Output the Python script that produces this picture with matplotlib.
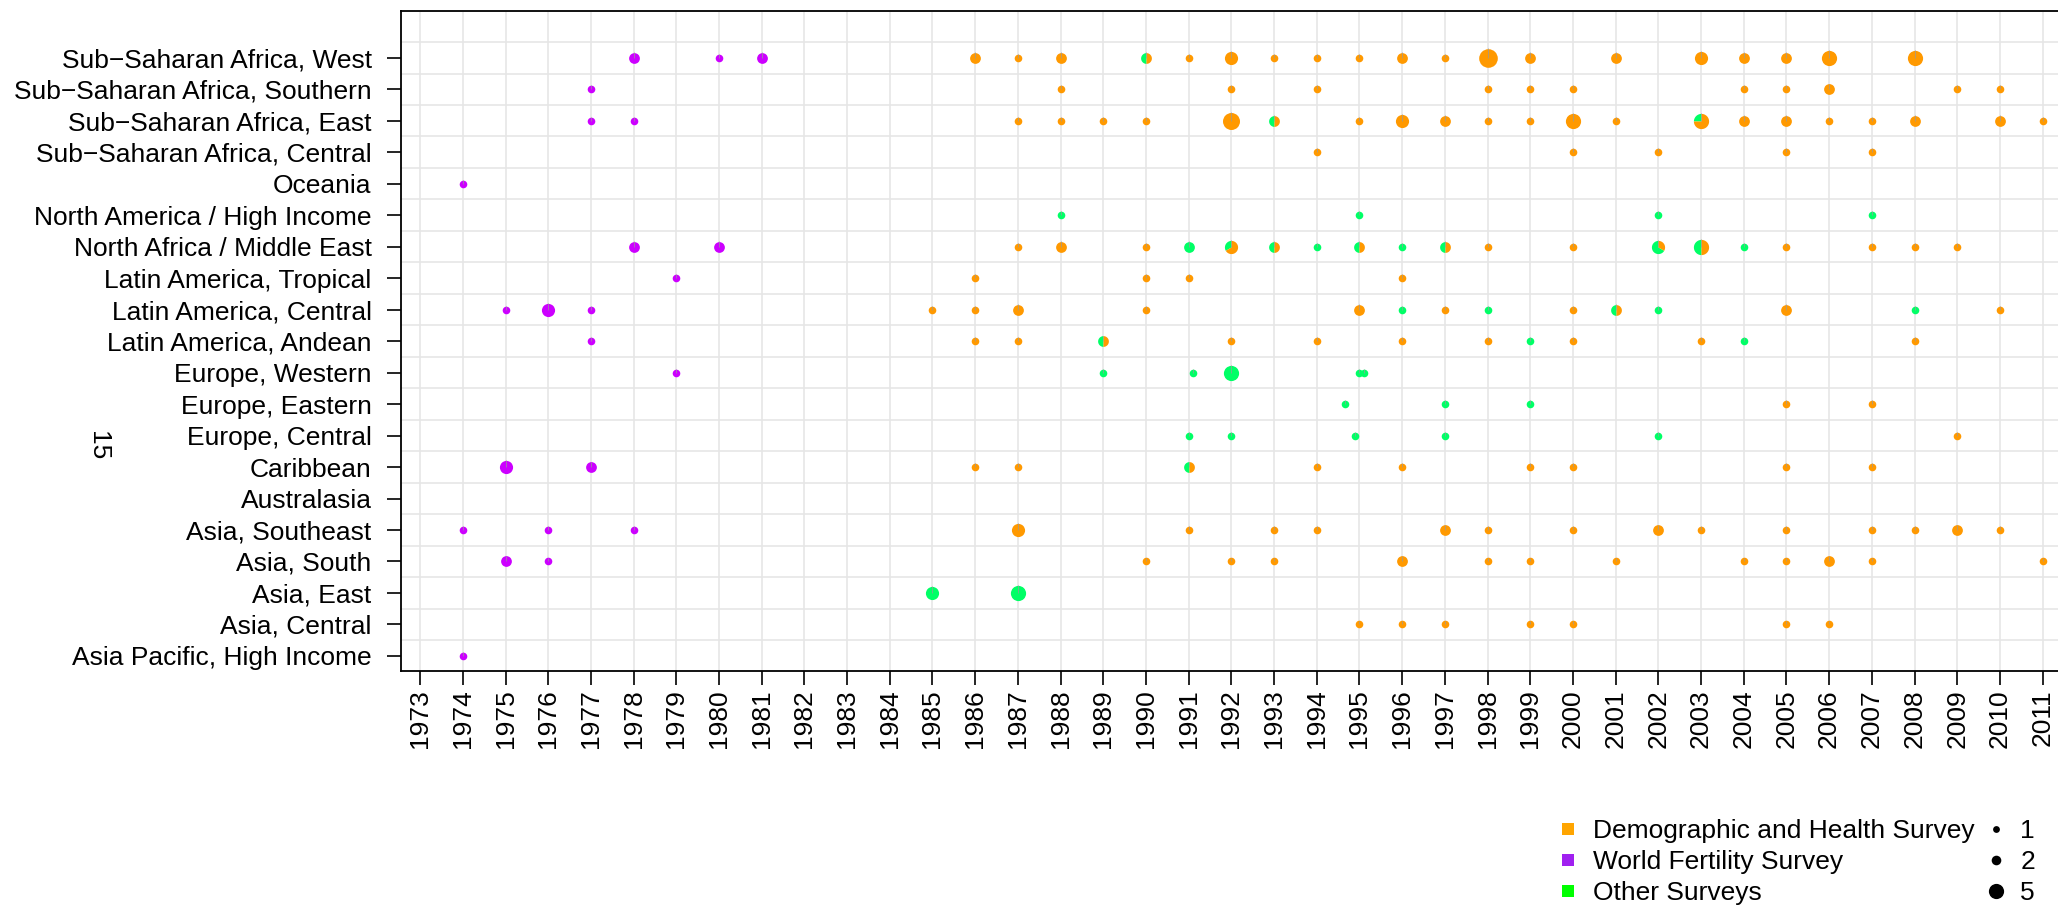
import numpy as np
import matplotlib
matplotlib.use('Agg')
import matplotlib.pyplot as plt
from matplotlib.path import Path
from matplotlib.lines import Line2D

# regions, bottom row first
regions = [
    "Asia Pacific, High Income", "Asia, Central", "Asia, East", "Asia, South",
    "Asia, Southeast", "Australasia", "Caribbean", "Europe, Central",
    "Europe, Eastern", "Europe, Western", "Latin America, Andean",
    "Latin America, Central", "Latin America, Tropical",
    "North Africa / Middle East", "North America / High Income", "Oceania",
    "Sub\u2212Saharan Africa, Central", "Sub\u2212Saharan Africa, East",
    "Sub\u2212Saharan Africa, Southern", "Sub\u2212Saharan Africa, West",
]
years = list(range(1973, 2013))

# (year, number of surveys) per region
dhs_surveys = {
    "Sub\u2212Saharan Africa, West": [(1986, 2), (1987, 1), (1988, 2), (1990, 1), (1991, 1), (1992, 3),
                                     (1993, 1), (1994, 1), (1995, 1), (1996, 2), (1997, 1), (1998, 6),
                                     (1999, 2), (2001, 2), (2003, 3), (2004, 2), (2005, 2), (2006, 4),
                                     (2008, 4)],
    "Sub\u2212Saharan Africa, Southern": [(1988, 1), (1992, 1), (1994, 1), (1998, 1), (1999, 1), (2000, 1),
                                         (2004, 1), (2005, 1), (2006, 2), (2009, 1), (2010, 1)],
    "Sub\u2212Saharan Africa, East": [(1987, 1), (1988, 1), (1989, 1), (1990, 1), (1992, 5), (1993, 1),
                                     (1995, 1), (1996, 3), (1997, 2), (1998, 1), (1999, 1), (2000, 4),
                                     (2001, 1), (2003, 3), (2004, 2), (2005, 2), (2006, 1), (2007, 1),
                                     (2008, 2), (2010, 2), (2011, 1)],
    "Sub\u2212Saharan Africa, Central": [(1994, 1), (2000, 1), (2002, 1), (2005, 1), (2007, 1)],
    "North Africa / Middle East": [(1987, 1), (1988, 2), (1990, 1), (1992, 2), (1993, 1), (1995, 1),
                                   (1997, 1), (1998, 1), (2000, 1), (2002, 1), (2003, 2), (2005, 1),
                                   (2007, 1), (2008, 1), (2009, 1)],
    "Latin America, Tropical": [(1986, 1), (1990, 1), (1991, 1), (1996, 1)],
    "Latin America, Central": [(1985, 1), (1986, 1), (1987, 2), (1990, 1), (1995, 2), (1997, 1),
                               (2000, 1), (2001, 1), (2005, 2), (2010, 1)],
    "Latin America, Andean": [(1986, 1), (1987, 1), (1989, 1), (1992, 1), (1994, 1), (1996, 1),
                              (1998, 1), (2000, 1), (2003, 1), (2008, 1)],
    "Europe, Eastern": [(2005, 1), (2007, 1)],
    "Europe, Central": [(2009, 1)],
    "Caribbean": [(1986, 1), (1987, 1), (1991, 1), (1994, 1), (1996, 1), (1999, 1), (2000, 1),
                  (2005, 1), (2007, 1)],
    "Asia, Southeast": [(1987, 3), (1991, 1), (1993, 1), (1994, 1), (1997, 2), (1998, 1), (2000, 1),
                        (2002, 2), (2003, 1), (2005, 1), (2007, 1), (2008, 1), (2009, 2), (2010, 1)],
    "Asia, South": [(1990, 1), (1992, 1), (1993, 1), (1996, 2), (1998, 1), (1999, 1), (2001, 1),
                    (2004, 1), (2005, 1), (2006, 2), (2007, 1), (2011, 1)],
    "Asia, Central": [(1995, 1), (1996, 1), (1997, 1), (1999, 1), (2000, 1), (2005, 1), (2006, 1)],
}

wfs_surveys = {
    "Sub\u2212Saharan Africa, West": [(1978, 2), (1980, 1), (1981, 2)],
    "Sub\u2212Saharan Africa, Southern": [(1977, 1)],
    "Sub\u2212Saharan Africa, East": [(1977, 1), (1978, 1)],
    "Oceania": [(1974, 1)],
    "North Africa / Middle East": [(1978, 2), (1980, 2)],
    "Latin America, Tropical": [(1979, 1)],
    "Latin America, Central": [(1975, 1), (1976, 3), (1977, 1)],
    "Latin America, Andean": [(1977, 1)],
    "Europe, Western": [(1979, 1)],
    "Caribbean": [(1975, 3), (1977, 2)],
    "Asia, Southeast": [(1974, 1), (1976, 1), (1978, 1)],
    "Asia, South": [(1975, 2), (1976, 1)],
    "Asia Pacific, High Income": [(1974, 1)],
}

other_surveys = {
    "Sub\u2212Saharan Africa, West": [(1990, 1)],
    "Sub\u2212Saharan Africa, East": [(1993, 1), (2003, 1)],
    "North America / High Income": [(1988, 1), (1995, 1), (2002, 1), (2007, 1)],
    "North Africa / Middle East": [(1991, 2), (1992, 1), (1993, 1), (1994, 1), (1995, 1), (1996, 1),
                                   (1997, 1), (2002, 2), (2003, 2), (2004, 1)],
    "Latin America, Central": [(1996, 1), (1998, 1), (2001, 1), (2002, 1), (2008, 1)],
    "Latin America, Andean": [(1989, 1), (1999, 1), (2004, 1)],
    "Europe, Western": [(1989, 1), (1991.1, 1), (1992, 4), (1995, 1), (1995.1, 1)],
    "Europe, Eastern": [(1994.66, 1), (1997, 1), (1999, 1)],
    "Europe, Central": [(1991, 1), (1992, 1), (1994.9, 1), (1997, 1), (2002, 1)],
    "Caribbean": [(1991, 1)],
    "Asia, East": [(1985, 3), (1987, 4)],
}

survey_labels = ["Demographic and Health Survey", "World Fertility Survey", "Other Surveys"]
legend_colors = ["#FFA500", "#A020F0", "#00FF00"]
size_labels = [1, 2, 5]

# slice order inside a pie: other, dhs, wfs
point_colors = ["#00FF66", "#FF9900", "#CC00FF"]
sources = [other_surveys, dhs_surveys, wfs_surveys]
SIZE = 30  # marker area (pt^2) for one survey
FS = 19


def wedge(t1, t2):
    ts = np.radians(np.linspace(t1, t2, 80))
    verts = np.column_stack([np.r_[0, np.cos(ts), 0], np.r_[0, np.sin(ts), 0]])
    return Path(verts, closed=True)


# collect counts per (region, year)
counts = {}
for k, src in enumerate(sources):
    for reg, items in src.items():
        for yr, n in items:
            counts.setdefault((reg, yr), [0, 0, 0])[k] += n

plt.rcParams['font.family'] = ['Liberation Sans', 'DejaVu Sans']

fig = plt.figure(figsize=(20.58, 9.09), dpi=100)
ax = fig.add_axes([0.1948, 0.2618, 0.8278, 0.7266])
ax.set_xlim(1972.55, 2012.45)
ax.set_ylim(0.52, 21.5)

ax.set_xticks(years)
ax.set_xticklabels([str(y) for y in years], rotation=90)
ax.set_yticks(range(1, len(regions) + 1))
ax.set_yticklabels(regions)
ax.set_yticks(np.arange(1.5, len(regions) + 2, 1.0), minor=True)
ax.grid(True, which='major', axis='x', color='#E6E6E6', linewidth=1.2)
ax.grid(True, which='minor', axis='y', color='#E6E6E6', linewidth=1.2)
ax.set_axisbelow(True)
ax.tick_params(axis='both', which='major', direction='out', length=10, width=1.2,
               labelsize=FS, colors='black')
ax.tick_params(axis='x', pad=3)
ax.tick_params(axis='y', pad=11)
ax.tick_params(which='minor', length=0)
for sp in ax.spines.values():
    sp.set_linewidth(1.3)

radial = Path([(0, 0), (0, 1)])
for (reg, yr), c in counts.items():
    y = regions.index(reg) + 1
    total = sum(c)
    start = 90.0
    for k in range(3):
        if c[k] == 0:
            continue
        if c[k] == total:
            ax.scatter(yr, y, s=SIZE * total, c=point_colors[k], marker='o',
                       linewidths=0, zorder=3)
        else:
            end = start + 360.0 * c[k] / total
            ax.scatter(yr, y, s=SIZE * total, c=point_colors[k], marker=wedge(start, end),
                       linewidths=0, zorder=3)
            start = end
    ax.scatter(yr, y, s=SIZE * total, marker=radial, facecolors='none',
               edgecolors='#9A9A9A', linewidths=0.5, zorder=4)

fig.text(98 / 2058, 1 - 446 / 909, "15", rotation=-90, ha='center', va='center', fontsize=FS)

h1 = [Line2D([], [], marker='s', linestyle='none', markersize=8.3, markerfacecolor=c,
             markeredgewidth=0) for c in legend_colors]
fig.legend(h1, survey_labels, loc='upper left', bbox_to_anchor=(0.7553, 0.0985),
           frameon=False, borderpad=0, borderaxespad=0, handlelength=1.0,
           handletextpad=0.48, labelspacing=0.26, fontsize=FS)
h2 = [Line2D([], [], marker='o', linestyle='none', markersize=4.9 * np.sqrt(n),
             markerfacecolor='black', markeredgewidth=0) for n in size_labels]
fig.legend(h2, [str(n) for n in size_labels], loc='upper left', bbox_to_anchor=(0.9637, 0.0985),
           frameon=False, borderpad=0, borderaxespad=0, handlelength=1.0,
           handletextpad=0.40, labelspacing=0.26, fontsize=FS)

fig.savefig('out.png', dpi=100)
